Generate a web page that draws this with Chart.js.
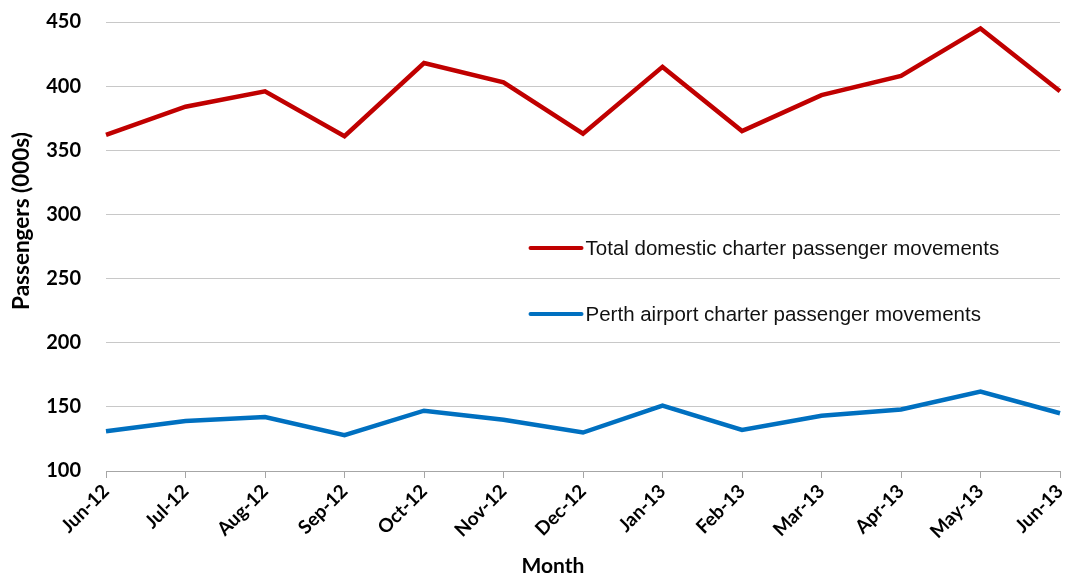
<!DOCTYPE html>
<html>
<head>
<meta charset="utf-8">
<script src="https://cdn.jsdelivr.net/npm/chart.js@4"></script>
<style>
  body { margin: 0; background: #fff; }
  #wrap { width: 1066px; height: 577px; position: relative; }
</style>
</head>
<body>
<div id="wrap"><canvas id="lineas"></canvas></div>
<script>
const meses = ["Jun-12","Jul-12","Aug-12","Sep-12","Oct-12","Nov-12","Dec-12","Jan-13","Feb-13","Mar-13","Apr-13","May-13","Jun-13"];
const valores_total = [362,384,396,361,418,403,363,415,365,393,408,445,396];
const valores_perth = [131,139,142,128,147,140,130,151,132,143,148,162,145];
const etiquetas = ["Total domestic charter passenger movements","Perth airport charter passenger movements"];
const titulo_x = 'Month';
const titulo_y = 'Passengers (000s)';

const colorTotal = '#C00000';
const colorPerth = '#0070C0';

// legend drawn inside the plot, plus both axis titles
const leyenda = {
  id: 'leyenda',
  afterDraw(chart) {
    const c = chart.ctx;
    const area = chart.chartArea;
    const x0 = area.left + (area.right - area.left) * 0.445;
    const ys = [248, 314];
    c.save();
    chart.data.datasets.forEach((ds, i) => {
      c.strokeStyle = ds.borderColor;
      c.lineWidth = 4;
      c.lineCap = 'round';
      c.beginPath();
      c.moveTo(x0, ys[i]);
      c.lineTo(x0 + 51, ys[i]);
      c.stroke();
      c.fillStyle = '#111';
      c.font = '20.5px "Liberation Sans", Arial, sans-serif';
      c.textBaseline = 'middle';
      c.textAlign = 'left';
      c.fillText(ds.label, x0 + 55, ys[i] + 1);
    });
    c.fillStyle = '#000';
    c.textAlign = 'center';
    c.textBaseline = 'middle';
    c.font = 'bold 21px Lato, sans-serif';
    c.fillText(titulo_x, 553, 566);
    c.translate(22, 221);
    c.rotate(-Math.PI / 2);
    c.font = 'bold 22.5px Lato, sans-serif';
    c.fillText(titulo_y, 0, 0);
    c.restore();
  }
};

const grafico = new Chart(document.getElementById('lineas'), {
  type: 'line',
  data: {
    labels: meses,
    datasets: [{
      label: etiquetas[0],
      data: valores_total,
      borderColor: colorTotal,
      backgroundColor: colorTotal,
      borderWidth: 4.5,
      pointRadius: 0,
      tension: 0,
      fill: false
    }, {
      label: etiquetas[1],
      data: valores_perth,
      borderColor: colorPerth,
      backgroundColor: colorPerth,
      borderWidth: 4.5,
      pointRadius: 0,
      tension: 0,
      fill: false
    }]
  },
  options: {
    responsive: true,
    maintainAspectRatio: false,
    animation: false,
    layout: { padding: { top: 22, right: 6, left: 0, bottom: 0 } },
    plugins: {
      legend: { display: false },
      tooltip: { enabled: false }
    },
    scales: {
      x: {
        offset: false,
        grid: { drawOnChartArea: false, drawTicks: true, tickLength: 7, color: '#a6a6a6' },
        border: { display: true, color: '#a6a6a6', width: 1 },
        ticks: {
          maxRotation: 45, minRotation: 45, autoSkip: false, padding: 2,
          color: '#000',
          font: { family: 'Lato', weight: 'bold', size: 19 }
        },
        afterFit(s) { s.height = 106; s.paddingLeft = 0; s.paddingRight = 0; }
      },
      y: {
        min: 100, max: 450,
        grid: { color: '#c8c8c8', drawTicks: false },
        border: { display: false },
        ticks: {
          stepSize: 50, padding: 25, color: '#000',
          font: { family: 'Lato', weight: 'bold', size: 20 }
        },
        afterFit(s) { s.width = 106; s.paddingTop = 0; s.paddingBottom = 0; }
      }
    }
  },
  plugins: [leyenda]
});
</script>
</body>
</html>
